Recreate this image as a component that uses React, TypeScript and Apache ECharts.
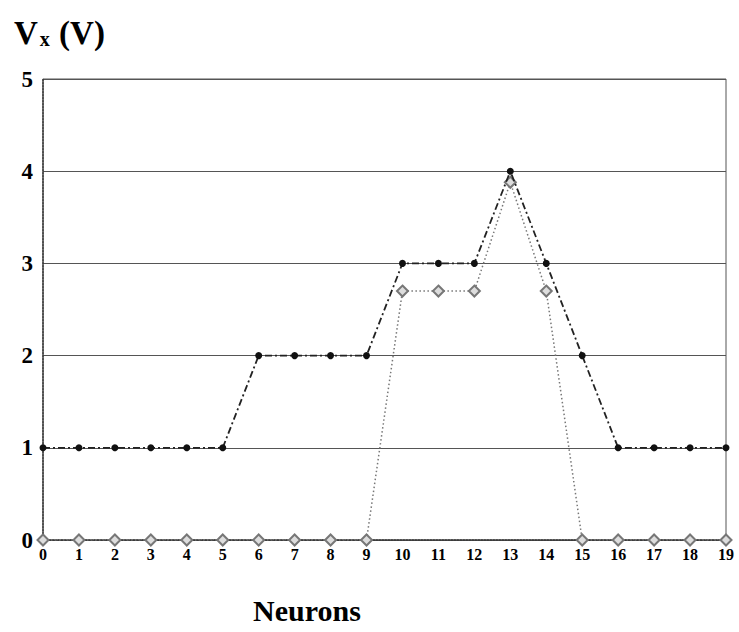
import React, { useEffect, useRef } from "react";
import * as echarts from "echarts";

const neurons = ["0","1","2","3","4","5","6","7","8","9","10","11","12","13","14","15","16","17","18","19"];
const seriesA = [1,1,1,1,1,1,2,2,2,2,3,3,3,4,3,2,1,1,1,1];
const seriesB = [0,0,0,0,0,0,0,0,0,0,2.7,2.7,2.7,3.88,2.7,0,0,0,0,0];
const yTicks = [0,1,2,3,4,5];

const FONT = "'Liberation Serif', 'Times New Roman', serif";

export default function App() {
  const ref = useRef<HTMLDivElement>(null);
  useEffect(() => {
    if (!ref.current) return;
    const chart = echarts.init(ref.current, undefined, { renderer: "svg" });
    chart.setOption({
      animation: false,
      backgroundColor: "#fff",
      title: [
        {
          text: "{v|V}{s|x}{v| (V)}",
          left: 9,
          top: 8,
          textStyle: {
            rich: {
              v: { fontFamily: FONT, fontWeight: "bold", fontSize: 33, color: "#000", verticalAlign: "bottom" },
              s: { fontFamily: FONT, fontWeight: "bold", fontSize: 20, color: "#000", padding: [16, 1, 0, 2], verticalAlign: "bottom" },
            },
          },
        },
        {
          text: "Neurons",
          left: 302,
          top: 590,
          textAlign: "center",
          textStyle: { fontFamily: FONT, fontWeight: "bold", fontSize: 30, color: "#000" },
        },
      ],
      grid: { left: 43, right: 13, top: 79, bottom: 92, show: true, borderColor: "#555", borderWidth: 1, backgroundColor: "transparent" },
      xAxis: {
        type: "category",
        data: neurons,
        boundaryGap: false,
        axisLine: { show: true, lineStyle: { color: "#333", type: "dotted", width: 1.5 } },
        axisTick: { show: false },
        axisLabel: { fontFamily: FONT, fontWeight: "bold", fontSize: 16, color: "#000", margin: 6, interval: 0 },
        splitLine: { show: false },
      },
      yAxis: {
        type: "value",
        min: 0,
        max: 5,
        interval: 1,
        axisLine: { show: true, lineStyle: { color: "#333", type: "dotted", width: 1.5 } },
        axisTick: { show: false },
        axisLabel: {
          fontFamily: FONT, fontWeight: "bold", fontSize: 23, color: "#000", margin: 10,
          formatter: (v: number) => (yTicks.includes(v) ? String(v) : ""),
        },
        splitLine: { show: true, lineStyle: { color: "#555", width: 1 } },
      },
      series: [
        {
          name: "B",
          type: "line",
          data: seriesB,
          symbol: "diamond",
          symbolSize: 11,
          itemStyle: { color: "#ddd", borderColor: "#777", borderWidth: 2 },
          lineStyle: { color: "#777", width: 1.5, type: [1.5, 2.5] },
          z: 2,
        },
        {
          name: "A",
          type: "line",
          data: seriesA,
          symbol: "circle",
          symbolSize: 7,
          itemStyle: { color: "#111" },
          lineStyle: { color: "#222", width: 1.8, type: [7, 3, 2, 3] },
          z: 3,
        },
      ],
    });
    return () => chart.dispose();
  }, []);
  return <div ref={ref} style={{ width: 739, height: 632, position: "absolute", left: 0, top: 0 }} />;
}
